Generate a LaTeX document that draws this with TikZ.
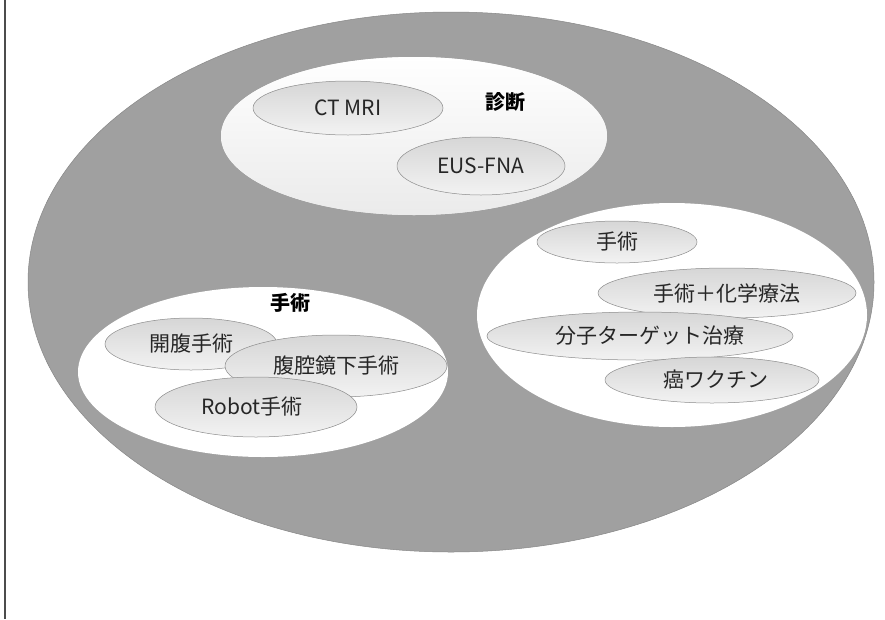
\documentclass[tikz,border=0pt]{standalone}
\usepackage{fontspec}
\setmainfont{Noto Sans CJK JP}
\usetikzlibrary{shapes.geometric}
\definecolor{biggray}{RGB}{160,160,160}
\definecolor{bigedge}{RGB}{135,135,135}
\definecolor{inedge}{RGB}{140,140,140}
\tikzset{
  big/.style={ellipse, fill=biggray, draw=bigedge, line width=0.5pt, inner sep=0pt},
  group/.style={ellipse, fill=white, draw=none, inner sep=0pt},
  item/.style={ellipse, top color=black!16, bottom color=black!5, draw=inedge, line width=0.5pt, inner sep=0pt, text=black!85, font=\fontsize{21}{21}\selectfont},
  title/.style={font=\fontsize{20}{20}\selectfont\bfseries, inner sep=0pt},
}
\begin{document}
\begin{tikzpicture}[x=1pt,y=-1pt]
\useasboundingbox (0,0) rectangle (885,619);
\fill[white] (0,0) rectangle (885,619);
\coordinate (lt) at (5,0);
\coordinate (lb) at (5,619);
\draw[black!70, line width=1.5pt] (lt) -- (lb);
\node[big, minimum width=846pt, minimum height=540pt] (world) at (451,282) {};
% diagnosis
\node[group, top color=white, bottom color=black!8, minimum width=386pt, minimum height=158pt] (diag) at (414,136) {};
\node[item, minimum width=190pt, minimum height=54pt] (ct) at (348,108) {CT MRI};
\node[item, minimum width=168pt, minimum height=58pt] (eus) at (481,166) {EUS-FNA};
\node[title] (diagt) at (505,102) {診断};
% treatment
\node[group, minimum width=390pt, minimum height=224pt] (treat) at (672,315) {};
\node[item, minimum width=160pt, minimum height=42pt] (op2) at (617,242) {手術};
\node[item, minimum width=258pt, minimum height=50pt] (chemo) at (727,293) {手術＋化学療法};
\node[item, minimum width=306pt, minimum height=48pt] (mol) at (640,336) {\hspace*{20pt}分子ターゲット治療};
\node[item, minimum width=214pt, minimum height=46pt] (vac) at (712,380) {\hspace*{8pt}癌ワクチン};
% surgery
\node[group, minimum width=370pt, minimum height=170pt] (surg) at (263,372) {};
\node[title] (surgt) at (290,303) {手術};
\node[item, minimum width=172pt, minimum height=52pt] (open) at (191,344) {開腹手術};
\node[item, minimum width=222pt, minimum height=62pt] (lap) at (336,366) {腹腔鏡下手術};
\node[item, minimum width=202pt, minimum height=60pt] (robot) at (256,407) {\hspace*{-8pt}Robot手術};
\end{tikzpicture}
\end{document}
